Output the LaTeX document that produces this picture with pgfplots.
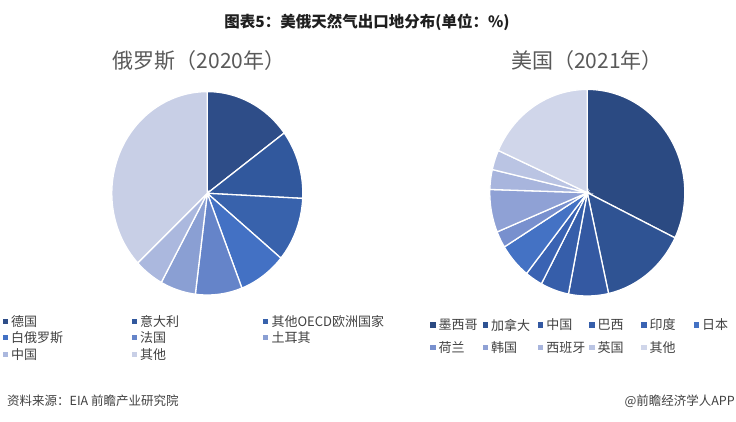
\documentclass[border=0pt]{standalone}
\usepackage{pgfplots}
\pgfplotsset{compat=1.18}
\usepackage{pgfplotstable}
\usepackage{fontspec}
\setmainfont{Noto Sans CJK SC}

% Russia 2020 colours
\definecolor{ru0}{HTML}{2E4D88}
\definecolor{ru1}{HTML}{31589D}
\definecolor{ru2}{HTML}{3862AC}
\definecolor{ru3}{HTML}{4371C4}
\definecolor{ru4}{HTML}{6584C9}
\definecolor{ru5}{HTML}{8A9FD3}
\definecolor{ru6}{HTML}{ABB8DE}
\definecolor{ru7}{HTML}{C8CFE6}
% USA 2021 colours
\definecolor{us0}{HTML}{2B4A82}
\definecolor{us1}{HTML}{2F5393}
\definecolor{us2}{HTML}{3459A2}
\definecolor{us3}{HTML}{365EAA}
\definecolor{us4}{HTML}{3A63B3}
\definecolor{us5}{HTML}{4472C4}
\definecolor{us6}{HTML}{7890CE}
\definecolor{us7}{HTML}{8FA1D5}
\definecolor{us8}{HTML}{A8B5DD}
\definecolor{us9}{HTML}{BAC4E3}
\definecolor{us10}{HTML}{D0D6EA}
\definecolor{txt}{HTML}{404040}
\definecolor{sub}{HTML}{595959}

% shares in %
\pgfplotstableread{
pct
14.9
10.9
10.2
8.1
7.9
6.0
5.0
37.0
}\ruData

\pgfplotstableread{
pct
32.2
14.3
6.6
4.7
2.9
5.5
2.6
6.7
3.1
3.1
18.3
}\usData

% #1 table, #2 colour prefix, #3 last row, #4 cx, #5 cy, #6 rx, #7 ry
\newcommand\drawpie[7]{%
  \def\cum{0}%
  \pgfplotsforeachungrouped \i in {0,...,#3}{%
    \pgfplotstablegetelem{\i}{pct}\of#1%
    \pgfmathsetmacro\a{\cum*3.6}%
    \pgfmathsetmacro\cum{\cum+\pgfplotsretval}%
    \pgfmathsetmacro\b{\cum*3.6}%
    \edef\temp{\noexpand\addplot[fill=#2\i, draw=white, line width=1.3pt, domain=\a:\b, samples=60] ({#4+#6*sin(x)},{#5+#7*cos(x)}) -- (axis cs:#4,#5) -- cycle;}%
    \temp
  }%
}

\newcommand\legitem[5]{% x y colour text fontsize
  \fill[#3] (#1-2.6,#2-2.6) rectangle (#1+2.6,#2+2.6);
  \node[anchor=west, inner sep=0pt, text=txt, font=\fontsize{#5}{#5}\selectfont] at (#1+5.5,#2) {#4};
}

\begin{document}
\begin{tikzpicture}[x=1pt,y=1pt]
\path[use as bounding box] (0,0) rectangle (736,421);

\begin{axis}[at={(0,0)}, anchor=origin, x=1pt, y=1pt,
  xmin=0, xmax=736, ymin=0, ymax=421, hide axis, clip=false, enlargelimits=false]
  \drawpie{\ruData}{ru}{7}{207.3}{227.7}{95.5}{101.7}
  \drawpie{\usData}{us}{10}{587.3}{228.3}{97.5}{103.3}
\end{axis}

\node[font=\fontsize{15.5}{18}\selectfont\bfseries, text=black!88] at (367,399) {图表5：美俄天然气出口地分布(单位：\%)};

\node[font=\fontsize{21}{24}\selectfont, text=sub] at (199,360) {俄罗斯（2020年）};
\node[font=\fontsize{21}{24}\selectfont, text=sub] at (587,360) {美国（2021年）};

% left legend
\legitem{5.3}{99.3}{ru0}{德国}{13}
\legitem{134.5}{99.3}{ru1}{意大利}{13}
\legitem{265.8}{99.3}{ru2}{其他OECD欧洲国家}{13}
\legitem{5.3}{83.7}{ru3}{白俄罗斯}{13}
\legitem{134.5}{83.7}{ru4}{法国}{13}
\legitem{265.8}{83.7}{ru5}{土耳其}{13}
\legitem{5.3}{66.7}{ru6}{中国}{13}
\legitem{134.5}{66.7}{ru7}{其他}{13}

% right legend
\legitem{433}{96}{us0}{墨西哥}{13}
\legitem{485.3}{96}{us1}{加拿大}{13}
\legitem{540.7}{96}{us2}{中国}{13}
\legitem{592}{96}{us3}{巴西}{13}
\legitem{644}{96}{us4}{印度}{13}
\legitem{696.3}{96}{us5}{日本}{13}
\legitem{433}{73.7}{us6}{荷兰}{13}
\legitem{485.3}{73.7}{us7}{韩国}{13}
\legitem{540.7}{73.7}{us8}{西班牙}{13}
\legitem{592}{73.7}{us9}{英国}{13}
\legitem{644}{73.7}{us10}{其他}{13}

\node[anchor=west, text=txt, font=\fontsize{12.5}{14}\selectfont, inner sep=0pt] at (7,20) {资料来源：EIA 前瞻产业研究院};
\node[anchor=east, text=txt, font=\fontsize{12.5}{14}\selectfont, inner sep=0pt] at (735,20) {@前瞻经济学人APP};
\end{tikzpicture}
\end{document}
